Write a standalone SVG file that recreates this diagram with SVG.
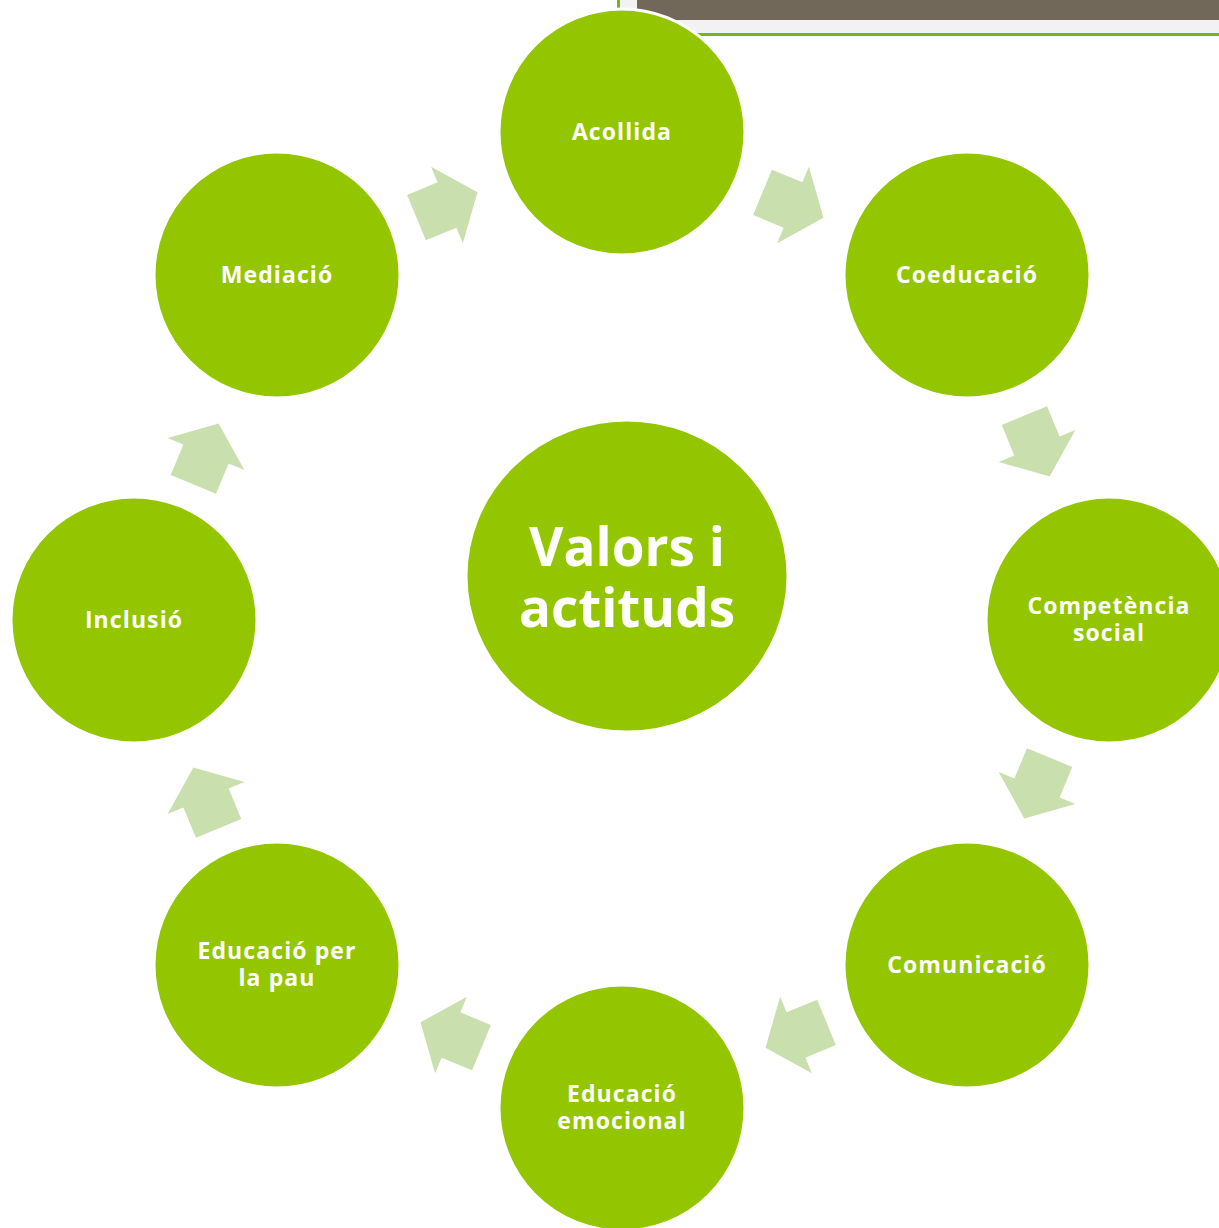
<svg xmlns="http://www.w3.org/2000/svg" width="1219" height="1228" viewBox="0 0 1219 1228">
<style>
.node{fill:#94C600;stroke:#ffffff;stroke-width:3}
.arrow{fill:#C9DFAD}
.lbl{font-family:"Open Sans","Liberation Sans",sans-serif;font-weight:bold;font-size:23px;letter-spacing:1.1px;fill:#ffffff;text-anchor:middle}
.big{font-family:"Open Sans","Liberation Sans",sans-serif;font-weight:bold;font-size:53px;fill:#ffffff;text-anchor:middle}
</style>
<defs>
<path id="arr" d="M-33,-24.5 L0,-24.5 L0,-41.5 L33,0 L0,41.5 L0,24.5 L-33,24.5 Z"/>
</defs>
<rect x="0" y="0" width="1219" height="1228" fill="#ffffff"/>
<g id="decoration">
<rect x="618" y="0" width="601" height="34" fill="#F2F2F2"/>
<rect x="617" y="0" width="3" height="36" fill="#76B41C"/>
<rect x="617" y="33" width="602" height="3" fill="#76B41C"/>
<rect x="637" y="0" width="582" height="20" fill="#71685A"/>
</g>
<g id="connectors">
<use href="#arr" class="arrow" transform="translate(793,205) rotate(22.5)"/>
<use href="#arr" class="arrow" transform="translate(1037,446) rotate(67.5)"/>
<use href="#arr" class="arrow" transform="translate(1037,788) rotate(112.5)"/>
<use href="#arr" class="arrow" transform="translate(796,1035) rotate(157.5)"/>
<use href="#arr" class="arrow" transform="translate(451,1035) rotate(202.5)"/>
<use href="#arr" class="arrow" transform="translate(206,798) rotate(247.5)"/>
<use href="#arr" class="arrow" transform="translate(206,454) rotate(292.5)"/>
<use href="#arr" class="arrow" transform="translate(447,205) rotate(337.5)"/>
</g>
<g id="center">
<ellipse class="node" cx="627" cy="576" rx="161" ry="156"/>
<text class="big" x="627" y="566">Valors i</text>
<text class="big" x="627" y="627">actituds</text>
</g>
<g id="acollida">
<circle class="node" cx="622" cy="132" r="123"/>
<text class="lbl" x="622" y="140">Acollida</text>
</g>
<g id="coeducacio">
<circle class="node" cx="967" cy="275" r="123"/>
<text class="lbl" x="967" y="283">Coeducació</text>
</g>
<g id="competencia">
<circle class="node" cx="1109" cy="620" r="123"/>
<text class="lbl" x="1109" y="614">Competència</text>
<text class="lbl" x="1109" y="641">social</text>
</g>
<g id="comunicacio">
<circle class="node" cx="967" cy="965" r="123"/>
<text class="lbl" x="967" y="973">Comunicació</text>
</g>
<g id="emocional">
<circle class="node" cx="622" cy="1108" r="123"/>
<text class="lbl" x="622" y="1102">Educació</text>
<text class="lbl" x="622" y="1129">emocional</text>
</g>
<g id="pau">
<circle class="node" cx="277" cy="965" r="123"/>
<text class="lbl" x="277" y="959">Educació per</text>
<text class="lbl" x="277" y="986">la pau</text>
</g>
<g id="inclusio">
<circle class="node" cx="134" cy="620" r="123"/>
<text class="lbl" x="134" y="628">Inclusió</text>
</g>
<g id="mediacio">
<circle class="node" cx="277" cy="275" r="123"/>
<text class="lbl" x="277" y="283">Mediació</text>
</g>
</svg>
